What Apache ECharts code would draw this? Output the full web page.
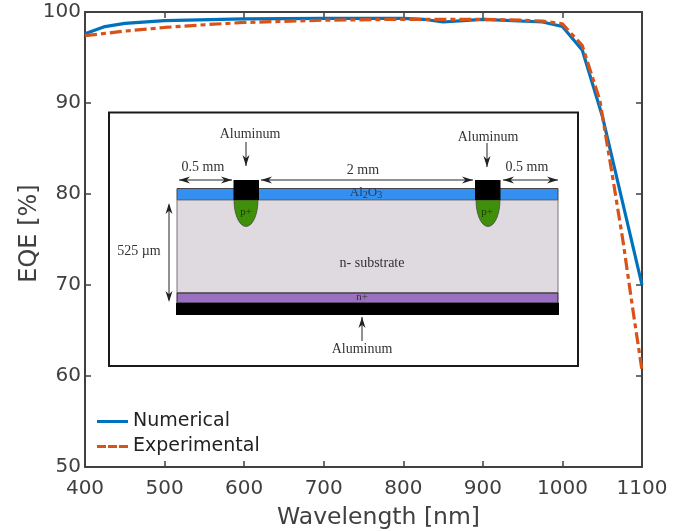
<!DOCTYPE html>
<html><head><meta charset="utf-8">
<style>html,body{margin:0;padding:0;background:#fff}#c{width:696px;height:531px}</style>
<script src="https://cdn.jsdelivr.net/npm/echarts@6/dist/echarts.min.js"></script>
</head><body><div id="c"></div>
<script>
const numericalWl = [400,425,450,500,600,700,800,825,850,875,900,975,1000,1025,1050,1100];
const numericalEqe = [97.6,98.4,98.75,99.05,99.25,99.3,99.3,99.2,98.9,99.05,99.2,98.9,98.4,95.8,88.6,70];
const experimentalWl = [400,450,500,550,600,700,800,900,950,975,1000,1025,1047,1063,1076,1088,1100];
const experimentalEqe = [97.4,97.9,98.3,98.6,98.85,99.1,99.2,99.2,99.1,99.0,98.7,96.3,90.3,81.9,74.9,67.6,60.6];
const seriesNames = ['Numerical','Experimental'];
const xTicks = {min:400,max:1100,interval:100};
const yTicks = {min:50,max:100,interval:10};

const axisColor = '#404040';
const chart = echarts.init(document.getElementById('c'),null,{renderer:'canvas'});
const pair = (a,b)=>a.map((v,i)=>[v,b[i]]);
const serif = '"Liberation Serif"';
const ink = '#333';

function rect(x,y,w,h,fill,stroke,lw){return {type:'rect',shape:{x,y,width:w,height:h},style:{fill:fill||'none',stroke:stroke||'none',lineWidth:lw||0},silent:true};}
function line(x1,y1,x2,y2,lw,c){return {type:'line',shape:{x1,y1,x2,y2},style:{stroke:c||'#222',lineWidth:lw||1},silent:true};}
function head(tx,ty,dx,dy){
  const L=11,W=3.5;const px=-dy,py=dx;
  return {type:'polygon',shape:{points:[[tx,ty],[tx-dx*L+px*W,ty-dy*L+py*W],[tx-dx*L*0.7,ty-dy*L*0.7],[tx-dx*L-px*W,ty-dy*L-py*W]]},style:{fill:'#222'},silent:true};
}
function label(x,y,t,size,fill){return {type:'text',x,y,style:{text:t,font:(size||14)+'px '+serif,fill:fill||ink,align:'center',verticalAlign:'middle'},silent:true};}
function arrowV(x,y1,y2){return [line(x,y1,x,y2),head(x,y2,0,Math.sign(y2-y1))];}
function arrowH2(x1,x2,y){return [line(x1,y,x2,y),head(x1,y,-1,0),head(x2,y,1,0)];}
function pBulb(x1,x2,y1,y2){
  const cx=(x1+x2)/2,rx=(x2-x1)/2,h=y2-y1,pts=[];
  for(let a=0;a<=180;a+=10){const r=a*Math.PI/180;pts.push([cx+rx*Math.cos(r),y1+h*Math.sin(r)]);}
  return {type:'polygon',shape:{points:pts},style:{fill:'#3f8f0a',stroke:'#444',lineWidth:0.7},silent:true};
}
const inset = [
  rect(109,112.5,469,253.5,'#fff','#1a1a1a',2),
  rect(177,188.5,381,11.5,'#3390f0','#444',1),
  rect(177,200,381,93,'#dfd9e0','#777',1),
  rect(177,293,381,10,'#9a70c0','#222',1),
  rect(176,303,383,12,'#000'),
  pBulb(234,258,200,226.5),
  pBulb(476,500,200,226.5),
  rect(233.5,180,25.5,20,'#000'),
  rect(475,180,25.5,20,'#000'),
  label(250,134,'Aluminum'),
  label(488,137,'Aluminum'),
  label(362,349,'Aluminum'),
  label(203,167,'0.5 mm'),
  label(527,167,'0.5 mm'),
  label(363,170,'2 mm'),
  label(139,251,'525 µm'),
  label(372,263,'n- substrate'),
  label(362,297,'n+',11),
  label(246,212,'p+',11,'#1c3a06'),
  label(487,212,'p+',11,'#1c3a06'),
  {type:'text',x:366,y:193,style:{text:'Al{s|2}O{s|3}',font:'13px '+serif,fill:'#2a3a55',align:'center',verticalAlign:'middle',
    rich:{s:{fontSize:10,fontFamily:'Liberation Serif',fill:'#2a3a55',verticalAlign:'bottom',padding:[5,0,0,0]}}},silent:true},
  ...arrowV(246,142,166),
  ...arrowV(487,143,167),
  ...arrowV(362,341,317),
  ...arrowH2(179,232,180),
  ...arrowH2(261,473,180),
  ...arrowH2(503,558,180),
  line(169,205,169,300),head(169,203,0,-1),head(169,302,0,1)
];

const tickInside = {show:true,inside:true,length:6,lineStyle:{color:axisColor,width:1.5}};
const axisLine = {show:true,onZero:false,lineStyle:{color:axisColor,width:2}};
const labelFont = {fontFamily:'DejaVu Sans',fontSize:20,color:axisColor};
const plain = v => String(v);

chart.setOption({
  animation:false,
  backgroundColor:'#fff',
  grid:{left:85,right:54,top:12,bottom:64,containLabel:false,outerBoundsMode:'none'},
  legend:{left:92,top:407,orient:'vertical',itemWidth:31,itemHeight:3,itemGap:6,
    data:[
      {name:seriesNames[0],icon:'path://M0 0H31V3H0Z'},
      {name:seriesNames[1],icon:'path://M0 0H9V3H0Z M11 0H20V3H11Z M22 0H31V3H22Z'}
    ],
    textStyle:{fontFamily:'DejaVu Sans',fontSize:19,color:'#222'}},
  xAxis:[
    {type:'value',position:'bottom',...xTicks,splitLine:{show:false},axisLine,axisTick:tickInside,
      axisLabel:{...labelFont,margin:12,formatter:plain,showMinLabel:true,showMaxLabel:true},
      name:'Wavelength [nm]',nameLocation:'middle',nameGap:51,nameMoveOverlap:false,
      nameTextStyle:{fontFamily:'DejaVu Sans',fontSize:23.5,color:axisColor,padding:[0,0,0,30],verticalAlign:'middle'}},
    {type:'value',position:'top',...xTicks,splitLine:{show:false},axisLine,axisTick:tickInside,axisLabel:{show:false}}
  ],
  yAxis:[
    {type:'value',position:'left',...yTicks,splitLine:{show:false},axisLine,axisTick:tickInside,
      axisLabel:{...labelFont,margin:4,formatter:plain},
      name:'EQE [%]',nameLocation:'middle',nameGap:55,nameMoveOverlap:false,
      nameTextStyle:{fontFamily:'DejaVu Sans',fontSize:24,color:axisColor,padding:[0,0,0,12],verticalAlign:'middle'}},
    {type:'value',position:'right',...yTicks,splitLine:{show:false},axisLine,axisTick:tickInside,axisLabel:{show:false}}
  ],
  series:[
    {name:seriesNames[0],type:'line',showSymbol:false,symbol:'none',data:pair(numericalWl,numericalEqe),
      lineStyle:{color:'#0072BD',width:3.2},itemStyle:{color:'#0072BD'},z:2,clip:false},
    {name:seriesNames[1],type:'line',showSymbol:false,symbol:'none',data:pair(experimentalWl,experimentalEqe),
      lineStyle:{color:'#D95319',width:3.2,type:[12,4,5,4]},itemStyle:{color:'#D95319'},z:3,clip:false}
  ],
  graphic:{elements:inset}
});
</script></body></html>
